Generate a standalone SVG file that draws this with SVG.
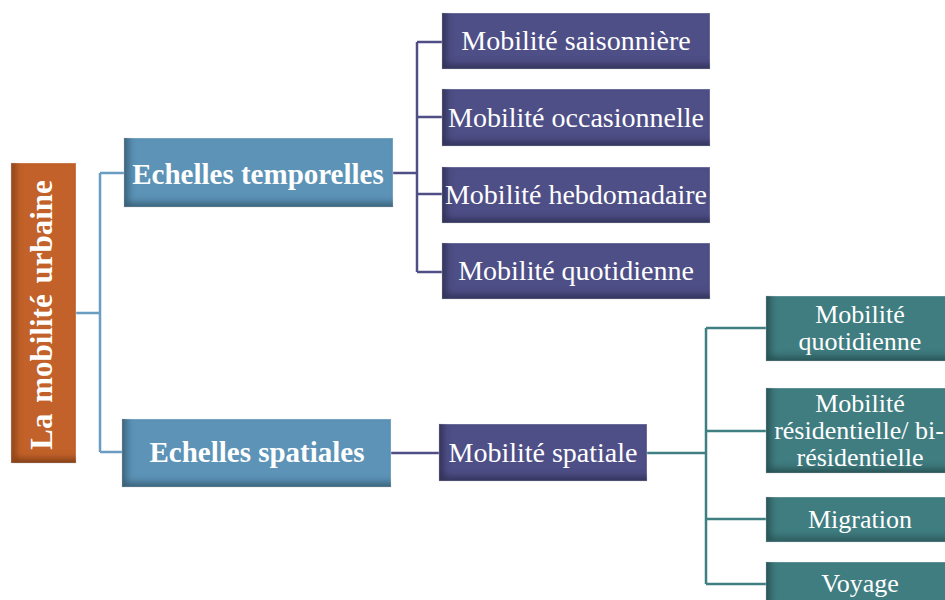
<svg xmlns="http://www.w3.org/2000/svg" width="945" height="600" viewBox="0 0 945 600">
<defs>
<filter id="inner" x="-10%" y="-15%" width="120%" height="130%">
<feFlood flood-color="#000" flood-opacity="0.6" result="f"/>
<feComposite in="f" in2="SourceAlpha" operator="out" result="outside"/>
<feOffset in="outside" dx="5" dy="-5" result="off"/>
<feGaussianBlur in="off" stdDeviation="3.5" result="blur"/>
<feComposite in="blur" in2="SourceAlpha" operator="in" result="shadow"/>
<feMerge><feMergeNode in="SourceGraphic"/><feMergeNode in="shadow"/></feMerge>
</filter>
<style>
.box{filter:url(#inner);stroke:#ffffff;stroke-opacity:0.35;stroke-width:1}
.root{fill:#C2622B}
.ech{fill:#5B93B6}
.pur{fill:#4F5087}
.teal{fill:#417D80}
text{font-family:"Liberation Serif","Times New Roman",serif;fill:#ffffff;text-anchor:middle}
.b{font-weight:bold;font-size:29px}
.n{font-size:28px}
.t{font-size:26px}
.c{fill:none;stroke-width:2.5}
.cb{stroke:#6A9DC1}
.cp{stroke:#4F4F86}
.ct{stroke:#3F7F82}
</style>
</defs>
<g id="connectors">
<path class="c cb" d="M76 313H100M100 173V452M100 173H124M100 452H122"/>
<path class="c cp" d="M393 173H417M417 42V272M417 42H442M417 117H442M417 194H442M417 272H442"/>
<path class="c cp" d="M391 453H439"/>
<path class="c ct" d="M647 453H706M706 328V584M706 328H766M706 431H766M706 519H766M706 584H766"/>
</g>
<g id="root">
<rect class="box root" x="11" y="163" width="65" height="300"/>
<text class="b" style="font-size:31px;word-spacing:3px" transform="translate(52 315) rotate(-90)">La mobilité urbaine</text>
</g>
<g id="temporelles">
<rect class="box ech" x="124" y="138" width="269" height="69"/>
<text class="b" x="258" y="184">Echelles temporelles</text>
</g>
<g id="spatiales">
<rect class="box ech" x="122" y="419" width="269" height="68"/>
<text class="b" x="257" y="462">Echelles spatiales</text>
</g>
<g id="saisonniere">
<rect class="box pur" x="442" y="13" width="268" height="56"/>
<text class="n" x="576" y="50">Mobilité saisonnière</text>
</g>
<g id="occasionnelle">
<rect class="box pur" x="442" y="89" width="268" height="57"/>
<text class="n" x="576" y="127">Mobilité occasionnelle</text>
</g>
<g id="hebdomadaire">
<rect class="box pur" x="442" y="167" width="268" height="56"/>
<text class="n" x="576" y="204">Mobilité hebdomadaire</text>
</g>
<g id="quotidienne1">
<rect class="box pur" x="442" y="243" width="268" height="56"/>
<text class="n" x="576" y="280">Mobilité quotidienne</text>
</g>
<g id="spatiale">
<rect class="box pur" x="439" y="424" width="208" height="57"/>
<text class="n" x="543" y="462">Mobilité spatiale</text>
</g>
<g id="quotidienne2">
<rect class="box teal" x="766" y="296" width="195" height="65"/>
<text class="t" x="860" y="323">Mobilité</text>
<text class="t" x="860" y="350">quotidienne</text>
</g>
<g id="residentielle">
<rect class="box teal" x="766" y="388" width="195" height="85"/>
<text class="t" x="860" y="412">Mobilité</text>
<text class="t" x="859" y="439">résidentielle/ bi-</text>
<text class="t" x="860" y="466">résidentielle</text>
</g>
<g id="migration">
<rect class="box teal" x="766" y="497" width="195" height="45"/>
<text class="t" x="860" y="528">Migration</text>
</g>
<g id="voyage">
<rect class="box teal" x="766" y="562" width="195" height="50"/>
<text class="t" x="860" y="592">Voyage</text>
</g>
</svg>
